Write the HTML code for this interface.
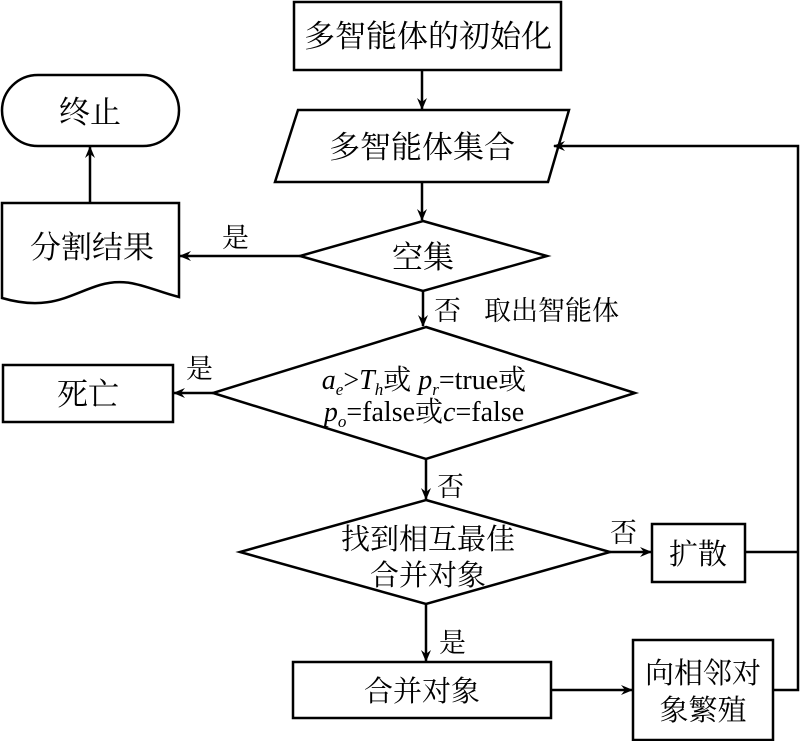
<!DOCTYPE html>
<html><head><meta charset="utf-8"><style>
html,body{margin:0;padding:0;background:#fff;}
svg{display:block;}
text{font-family:"Liberation Serif","Noto Serif CJK SC","Noto Sans CJK SC",serif;fill:#000;}
</style></head><body>
<svg width="800" height="741" viewBox="0 0 800 741" xmlns="http://www.w3.org/2000/svg">
<defs><marker id="a" markerWidth="12" markerHeight="10" refX="11" refY="5" orient="auto" markerUnits="userSpaceOnUse"><path d="M0,0 L12,5 L0,10 L4,5 Z" fill="#000"/></marker></defs>
<g stroke="#000" stroke-width="2.5" fill="none">
<rect x="294" y="2" width="267" height="68"/>
<polygon points="298,110 569,110 548,182 275,182"/>
<polygon points="423,221 547,256 423,291 300,256"/>
<rect x="2" y="75" width="177" height="71" rx="36" ry="36"/>
<path d="M2,203 L179,203 L179,297 C150,290 130,276 100,285 C70,294 50,312 2,298 Z"/>
<polygon points="426,327 635,393 426,459 213,393"/>
<rect x="3" y="365" width="170" height="57"/>
<polygon points="426,500 610,552 426,604 240,552"/>
<rect x="652" y="524" width="93" height="58"/>
<rect x="293" y="662" width="258" height="56"/>
<rect x="633" y="640" width="140" height="100"/>
<line x1="422" y1="70" x2="422" y2="109" marker-end="url(#a)"/>
<line x1="422" y1="182" x2="422" y2="220" marker-end="url(#a)"/>
<line x1="300" y1="256" x2="180" y2="256" marker-end="url(#a)"/>
<line x1="90" y1="203" x2="90" y2="147" marker-end="url(#a)"/>
<line x1="423" y1="291" x2="423" y2="326" marker-end="url(#a)"/>
<line x1="213" y1="393" x2="174" y2="393" marker-end="url(#a)"/>
<line x1="426" y1="459" x2="426" y2="499" marker-end="url(#a)"/>
<line x1="610" y1="552" x2="651" y2="552" marker-end="url(#a)"/>
<line x1="426" y1="604" x2="426" y2="661" marker-end="url(#a)"/>
<line x1="551" y1="690" x2="632" y2="690" marker-end="url(#a)"/>
<polyline points="745,552 798,552"/>
<polyline points="773,690 798,690 798,146 554,146" marker-end="url(#a)"/>
</g>
<g font-size="31" text-anchor="middle">
<text x="428" y="47">多智能体的初始化</text>
<text x="422" y="158">多智能体集合</text>
<text x="423" y="268">空集</text>
<text x="90" y="123">终止</text>
<text x="92" y="258">分割结果</text>
<text x="88" y="405">死亡</text>
<text x="428" y="549" font-size="29">找到相互最佳</text>
<text x="428" y="585" font-size="29">合并对象</text>
<text x="698" y="564" font-size="29">扩散</text>
<text x="422" y="701" font-size="29">合并对象</text>
<text x="703" y="683" font-size="29">向相邻对</text>
<text x="703" y="720" font-size="29">象繁殖</text>
</g>
<g font-size="27">
<text x="222" y="247">是</text>
<text x="434" y="320">否</text>
<text x="484" y="320">取出智能体</text>
<text x="186" y="378">是</text>
<text x="437" y="496">否</text>
<text x="610" y="542">否</text>
<text x="439" y="652">是</text>
</g>
<g font-size="28" text-anchor="middle">
<text x="424" y="389"><tspan font-style="italic">a</tspan><tspan font-style="italic" font-size="17" dy="6">e</tspan><tspan dy="-6">&gt;</tspan><tspan font-style="italic">T</tspan><tspan font-style="italic" font-size="17" dy="6">h</tspan><tspan dy="-6">或 </tspan><tspan font-style="italic">p</tspan><tspan font-style="italic" font-size="17" dy="6">r</tspan><tspan dy="-6">=true或</tspan></text>
<text x="424" y="421"><tspan font-style="italic">p</tspan><tspan font-style="italic" font-size="17" dy="6">o</tspan><tspan dy="-6">=false或</tspan><tspan font-style="italic">c</tspan><tspan>=false</tspan></text>
</g>
</svg>
</body></html>
